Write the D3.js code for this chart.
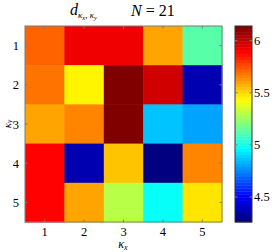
<!DOCTYPE html>
<html>
<head>
<meta charset="utf-8">
<script src="https://cdn.jsdelivr.net/npm/d3@7"></script>
<style>
  body { margin: 0; background: #fff; }
  text { font-family: "Liberation Serif", "DejaVu Serif", serif; fill: #000; }
</style>
</head>
<body>
<script>
// kappa_x columns, kappa_y rows
var kx = [1, 2, 3, 4, 5];
var ky = [1, 2, 3, 4, 5];
var row1 = [5.70, 5.93, 5.93, 5.59, 5.12];
var row2 = [5.67, 5.46, 6.14, 5.97, 4.36];
var row3 = [5.61, 5.65, 6.12, 4.86, 4.80];
var row4 = [5.88, 4.35, 5.53, 4.26, 5.65];
var row5 = [5.90, 5.59, 5.30, 4.98, 5.49];
var rows = [row1, row2, row3, row4, row5];
var cbTicks = [4.5, 5, 5.5, 6];

var W = 275, H = 252;
var plot = {x0: 25, x1: 222, y0: 26, y1: 222};
var cb = {x0: 235, x1: 252};

var svg = d3.select("body").append("svg")
    .attr("width", W)
    .attr("height", H);

// matlab-like jet, 64 levels
function jet(t) {
    var c = function(v) { return Math.max(0, Math.min(1, v)); };
    var r = c(1.5 - Math.abs(4 * t - 3)),
        g = c(1.5 - Math.abs(4 * t - 2)),
        b = c(1.5 - Math.abs(4 * t - 1));
    return d3.rgb(r * 255, g * 255, b * 255).toString();
}
var all = d3.merge(rows);
var vmin = d3.min(all), vmax = d3.max(all);
function colorOf(v) {
    var k = Math.min(63, Math.floor((v - vmin) / (vmax - vmin) * 64));
    return jet(k / 63);
}

var x = d3.scaleBand().domain(kx).range([plot.x0, plot.x1]);
var y = d3.scaleBand().domain(ky).range([plot.y0, plot.y1]);

var cells = [];
rows.forEach(function(r, i) {
    r.forEach(function(v, j) { cells.push({kx: kx[j], ky: ky[i], v: v}); });
});

svg.append("g").selectAll("rect")
    .data(cells)
    .enter().append("rect")
    .attr("x", function(d) { return x(d.kx); })
    .attr("y", function(d) { return y(d.ky); })
    .attr("width", x.bandwidth() + 0.5)
    .attr("height", y.bandwidth() + 0.5)
    .attr("fill", function(d) { return colorOf(d.v); });

// axes box + inside ticks
var axisCol = "#7a7a7a";
svg.append("rect")
    .attr("x", plot.x0).attr("y", plot.y0)
    .attr("width", plot.x1 - plot.x0).attr("height", plot.y1 - plot.y0)
    .attr("fill", "none").attr("stroke", axisCol).attr("stroke-width", 1);

var tk = svg.append("g").attr("stroke", axisCol);
kx.forEach(function(d) {
    var cx = x(d) + x.bandwidth() / 2;
    tk.append("line").attr("x1", cx).attr("x2", cx).attr("y1", plot.y1).attr("y2", plot.y1 - 2.5);
    tk.append("line").attr("x1", cx).attr("x2", cx).attr("y1", plot.y0).attr("y2", plot.y0 + 2.5);
});
ky.forEach(function(d) {
    var cy = y(d) + y.bandwidth() / 2;
    tk.append("line").attr("y1", cy).attr("y2", cy).attr("x1", plot.x0).attr("x2", plot.x0 + 2.5);
    tk.append("line").attr("y1", cy).attr("y2", cy).attr("x1", plot.x1).attr("x2", plot.x1 - 2.5);
});

svg.append("g").selectAll("text")
    .data(kx).enter().append("text")
    .attr("x", function(d) { return x(d) + x.bandwidth() / 2; })
    .attr("y", 236)
    .attr("text-anchor", "middle")
    .attr("font-size", 12.5)
    .text(function(d) { return d; });

svg.append("g").selectAll("text")
    .data(ky).enter().append("text")
    .attr("x", 19)
    .attr("y", function(d) { return y(d) + y.bandwidth() / 2 + 4.5; })
    .attr("text-anchor", "end")
    .attr("font-size", 12.5)
    .text(function(d) { return d; });

// axis labels
var xl = svg.append("text")
    .attr("x", 123).attr("y", 248)
    .attr("text-anchor", "middle")
    .attr("font-size", 12)
    .attr("font-style", "italic");
xl.append("tspan").text("κ");
xl.append("tspan").attr("font-size", 8).attr("dy", 2).text("x");

var yl = svg.append("text")
    .attr("transform", "translate(10.5,124) rotate(-90)")
    .attr("text-anchor", "middle")
    .attr("font-size", 11)
    .attr("font-style", "italic");
yl.append("tspan").text("κ");
yl.append("tspan").attr("font-size", 7.5).attr("dy", 1.5).text("y");

// title
var tt = svg.append("text")
    .attr("x", 70).attr("y", 15)
    .attr("font-size", 16)
    .attr("font-style", "italic");
tt.append("tspan").text("d");
tt.append("tspan").attr("font-size", 9).attr("dy", 3).text("κ");
tt.append("tspan").attr("font-size", 6.5).attr("dy", 1.5).text("x");
tt.append("tspan").attr("font-size", 9).attr("dy", -1.5).text(", κ");
tt.append("tspan").attr("font-size", 6.5).attr("dy", 1.5).text("y");
var tn = svg.append("text")
    .attr("x", 131).attr("y", 16)
    .attr("font-size", 16)
    .attr("xml:space", "preserve");
tn.append("tspan").attr("font-style", "italic").text("N");
tn.append("tspan").text(" = 21");

// colorbar
var cbScale = d3.scaleLinear().domain([vmin, vmax]).range([plot.y1, plot.y0]);
var nLev = 64, levH = (plot.y1 - plot.y0) / nLev;
svg.append("g").selectAll("rect")
    .data(d3.range(nLev)).enter().append("rect")
    .attr("x", cb.x0)
    .attr("y", function(i) { return plot.y1 - (i + 1) * levH; })
    .attr("width", cb.x1 - cb.x0)
    .attr("height", levH + 0.4)
    .attr("fill", function(i) { return jet(i / 63); });
svg.append("rect")
    .attr("x", cb.x0).attr("y", plot.y0)
    .attr("width", cb.x1 - cb.x0).attr("height", plot.y1 - plot.y0)
    .attr("fill", "none").attr("stroke", "#333").attr("stroke-width", 1);

var cbt = svg.append("g");
cbTicks.forEach(function(t) {
    var ty = cbScale(t);
    cbt.append("line").attr("x1", cb.x1).attr("x2", cb.x1 - 2.5).attr("y1", ty).attr("y2", ty).attr("stroke", axisCol);
    cbt.append("line").attr("x1", cb.x0).attr("x2", cb.x0 + 2.5).attr("y1", ty).attr("y2", ty).attr("stroke", axisCol);
    cbt.append("text")
        .attr("x", cb.x1 + 2)
        .attr("y", ty + 4.5)
        .attr("font-size", 12.5)
        .text(t);
});
</script>
</body>
</html>
